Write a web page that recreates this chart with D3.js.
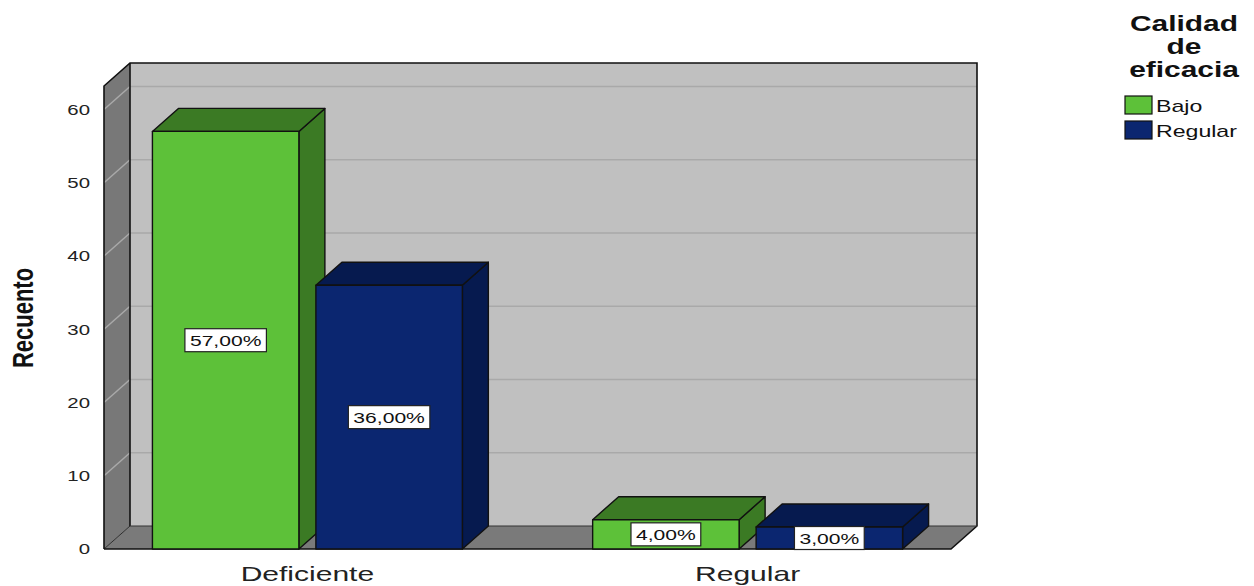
<!DOCTYPE html>
<html>
<head>
<meta charset="utf-8">
<script src="https://cdn.jsdelivr.net/npm/d3@7"></script>
<style>
  html, body { margin: 0; padding: 0; background: #fff; }
  svg { display: block; font-family: "Liberation Sans", Arial, sans-serif; }
</style>
</head>
<body>
<svg id="chart" width="1254" height="586"></svg>
<script>
// data
const categories = ["Deficiente", "Regular"];
const seriesNames = ["Bajo", "Regular"];
const bajoCounts = [57, 4];
const regularCounts = [36, 3];
const yTicks = [0, 10, 20, 30, 40, 50, 60];
const legendTitle = ["Calidad", "de", "eficacia"];
const yTitle = "Recuento";

const total = d3.sum(bajoCounts) + d3.sum(regularCounts);
const rows = [];
categories.forEach((c, i) => {
  rows.push({ cat: c, series: "Bajo", value: bajoCounts[i] });
  rows.push({ cat: c, series: "Regular", value: regularCounts[i] });
});

const svg = d3.select("#chart");
const W = 1254, H = 586;
const plotLeft = 104, plotRight = 951, plotBottom = 549, plotTop = 86;
const dx = 26, dy = -23;   // 3d depth offset
const yMax = 63.2;
const stretch = 1.36;      // text in the picture is wider than normal

const colors = { Bajo: "#5dc139", Regular: "#0b2670" };
const darkColors = { Bajo: "#3b7a24", Regular: "#061a4f" };

const y = d3.scaleLinear().domain([0, yMax]).range([plotBottom, plotTop]);
const x0 = d3.scaleBand().domain(categories).range([plotLeft, plotRight])
  .paddingInner(0.296).paddingOuter(0.11);
const x1 = d3.scaleBand().domain(seriesNames).range([0, x0.bandwidth()])
  .paddingInner(0.104);

svg.append("rect").attr("width", W).attr("height", H).attr("fill", "#fff");

const frame = svg.append("g");
const pts = a => a.map(p => p.join(",")).join(" ");

// back wall
frame.append("rect")
  .attr("x", plotLeft + dx).attr("y", y(yMax) + dy)
  .attr("width", plotRight - plotLeft).attr("height", y(0) - y(yMax))
  .attr("fill", "#c0c0c0");
// left wall
frame.append("polygon")
  .attr("points", pts([[plotLeft, y(0)], [plotLeft, y(yMax)], [plotLeft + dx, y(yMax) + dy], [plotLeft + dx, y(0) + dy]]))
  .attr("fill", "#787878");
// floor
frame.append("polygon")
  .attr("points", pts([[plotLeft, y(0)], [plotLeft + dx, y(0) + dy], [plotRight + dx, y(0) + dy], [plotRight, y(0)]]))
  .attr("fill", "#7a7a7a");

// grid lines
const grid = frame.append("g").attr("stroke", "#a9a9a9").attr("stroke-width", 1.5);
grid.selectAll(".gb").data(yTicks.filter(t => t > 0)).join("line")
  .attr("class", "gb")
  .attr("x1", plotLeft + dx).attr("x2", plotRight + dx)
  .attr("y1", d => y(d) + dy).attr("y2", d => y(d) + dy);
grid.selectAll(".gl").data(yTicks.filter(t => t > 0)).join("line")
  .attr("class", "gl")
  .attr("x1", plotLeft).attr("x2", plotLeft + dx)
  .attr("y1", d => y(d)).attr("y2", d => y(d) + dy);

// wall edges
const edges = frame.append("g").attr("stroke", "#111").attr("stroke-width", 1.6).attr("fill", "none");
edges.append("polyline")
  .attr("points", pts([[plotLeft, y(0)], [plotLeft, y(yMax)], [plotLeft + dx, y(yMax) + dy], [plotRight + dx, y(yMax) + dy], [plotRight + dx, y(0) + dy], [plotRight, y(0)], [plotLeft, y(0)]]));
edges.append("line")
  .attr("x1", plotLeft + dx).attr("x2", plotLeft + dx).attr("y1", y(yMax) + dy).attr("y2", y(0) + dy);
edges.append("line")
  .attr("x1", plotLeft).attr("x2", plotLeft + dx).attr("y1", y(0)).attr("y2", y(0) + dy)
  .attr("stroke-width", 0.8);
edges.append("line")
  .attr("x1", plotLeft + dx).attr("x2", plotRight + dx).attr("y1", y(0) + dy).attr("y2", y(0) + dy)
  .attr("stroke", "#333").attr("stroke-width", 1);

// bars
const bars = svg.append("g").attr("stroke", "#111").attr("stroke-width", 1.4).attr("stroke-linejoin", "round");
rows.forEach(d => {
  const bx = x0(d.cat) + x1(d.series);
  const bw = x1.bandwidth();
  const yt = y(d.value), yb = y(0);
  const g = bars.append("g");
  g.append("polygon")
    .attr("points", pts([[bx + bw, yt], [bx + bw + dx, yt + dy], [bx + bw + dx, yb + dy], [bx + bw, yb]]))
    .attr("fill", darkColors[d.series]);
  g.append("polygon")
    .attr("points", pts([[bx, yt], [bx + dx, yt + dy], [bx + bw + dx, yt + dy], [bx + bw, yt]]))
    .attr("fill", darkColors[d.series]);
  g.append("rect")
    .attr("x", bx).attr("y", yt).attr("width", bw).attr("height", yb - yt)
    .attr("fill", colors[d.series]);
});

// value labels
const fmt = v => (v / total * 100).toFixed(2).replace(".", ",") + "%";
const labels = svg.append("g");
rows.forEach(d => {
  const cx = x0(d.cat) + x1(d.series) + x1.bandwidth() / 2;
  const cy = (y(d.value) + y(0)) / 2;
  const g = labels.append("g").attr("transform", `translate(${cx},${cy})`);
  const box = g.append("rect");
  const t = g.append("text")
    .attr("text-anchor", "middle").attr("dy", "0.36em")
    .attr("font-size", 15.5).attr("fill", "#111")
    .attr("transform", `scale(${stretch},1)`)
    .text(fmt(d.value));
  const tw = t.node().getComputedTextLength() * stretch;
  box.attr("x", -tw / 2 - 5).attr("y", -11.5).attr("width", tw + 10).attr("height", 23)
    .attr("fill", "#fff").attr("stroke", "#222").attr("stroke-width", 1.2);
});

// y axis
const yAxis = svg.append("g")
  .attr("transform", `translate(${plotLeft},0)`)
  .call(d3.axisLeft(y).tickValues(yTicks).tickSize(0).tickPadding(14));
yAxis.select(".domain").remove();
yAxis.selectAll(".tick text")
  .attr("font-size", 15).attr("fill", "#222")
  .attr("font-family", "Liberation Sans, Arial, sans-serif")
  .attr("x", -14 / stretch)
  .attr("transform", `scale(${stretch},1)`);

// x axis
const xAxis = svg.append("g")
  .attr("transform", `translate(0,${plotBottom})`)
  .call(d3.axisBottom(x0).tickSize(0).tickPadding(17));
xAxis.select(".domain").remove();
xAxis.selectAll(".tick text")
  .attr("font-size", 21).attr("fill", "#222")
  .attr("font-family", "Liberation Sans, Arial, sans-serif")
  .attr("transform", `scale(1.43,1)`);

// y title
svg.append("text")
  .attr("transform", `translate(33,318) scale(${stretch},1) rotate(-90)`)
  .attr("text-anchor", "middle")
  .attr("font-size", 22).attr("font-weight", "bold").attr("fill", "#111")
  .text(yTitle);

// legend
const legend = svg.append("g").attr("transform", "translate(1184,0)");
legend.selectAll(".lt").data(legendTitle).join("text")
  .attr("class", "lt")
  .attr("y", (d, i) => 31 + i * 23)
  .attr("text-anchor", "middle")
  .attr("font-size", 22).attr("font-weight", "bold").attr("fill", "#111")
  .attr("transform", `scale(${stretch},1)`)
  .text(d => d);

const items = svg.append("g").attr("transform", "translate(1125,96)")
  .selectAll("g").data(seriesNames).join("g")
  .attr("transform", (d, i) => `translate(0,${i * 25})`);
items.append("rect")
  .attr("width", 27).attr("height", 18)
  .attr("fill", d => colors[d]).attr("stroke", "#111").attr("stroke-width", 1.2);
items.append("text")
  .attr("x", 31 / stretch).attr("y", 16)
  .attr("font-size", 17).attr("fill", "#111")
  .attr("transform", `scale(${stretch},1)`)
  .text(d => d);
</script>
</body>
</html>
